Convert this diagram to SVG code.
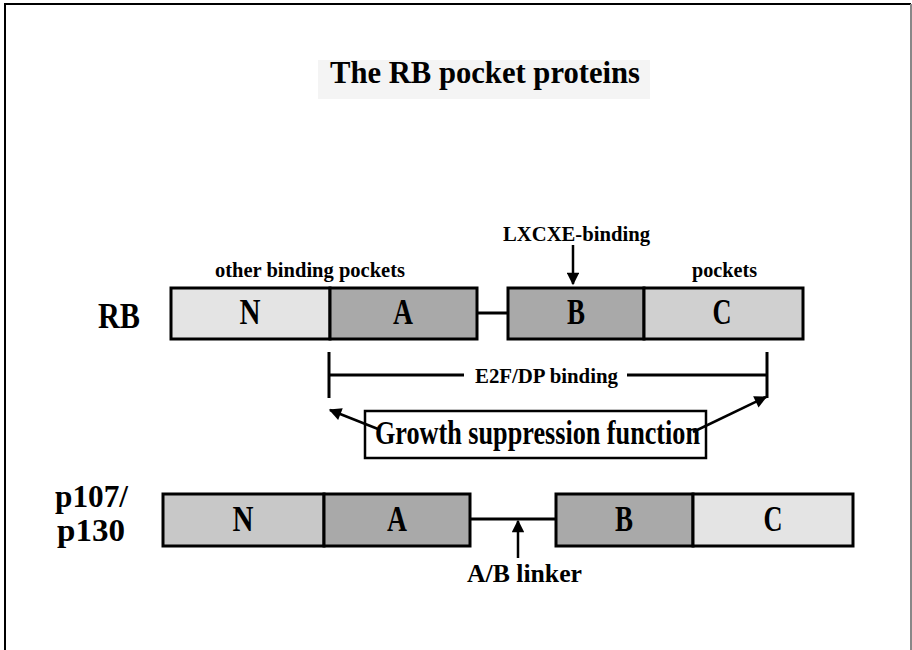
<svg xmlns="http://www.w3.org/2000/svg" width="912" height="650" viewBox="0 0 912 650">
  <defs>
    <marker id="head" viewBox="0 0 10 10" refX="9" refY="5" markerWidth="6" markerHeight="5" markerUnits="strokeWidth" orient="auto">
      <path d="M0,0 L10,5 L0,10 z" fill="#000"/>
    </marker>
    <style>
      .t { font-family: "Liberation Serif", "Times New Roman", serif; font-weight: bold; fill: #000; }
      .dom { stroke: #000; stroke-width: 3; }
      .lbl { font-size: 35px; text-anchor: middle; }
      .small { font-size: 21px; }
      .wire { stroke: #000; stroke-width: 3; fill: none; }
      .arrow { stroke: #000; stroke-width: 2.5; fill: none; marker-end: url(#head); }
    </style>
  </defs>

  <rect x="0" y="0" width="912" height="650" fill="#fff"/>
  <!-- slide frame -->
  <path d="M5,650 V4 H911" fill="none" stroke="#000" stroke-width="2"/>
  <line x1="911" y1="4" x2="911" y2="650" stroke="#888" stroke-width="2"/>

  <!-- title -->
  <g id="title">
    <rect x="318" y="60" width="332" height="39" fill="#f4f4f4"/>
    <text class="t" x="330" y="83" font-size="32" textLength="310" lengthAdjust="spacingAndGlyphs">The RB pocket proteins</text>
  </g>

  <!-- RB protein -->
  <g id="rb">
    <text class="t" x="98" y="328" font-size="35" textLength="42" lengthAdjust="spacingAndGlyphs">RB</text>
    <g id="rb-N"><rect class="dom" x="171" y="288" width="159" height="51" fill="#e4e4e4"/><text class="t lbl" x="250" y="324" textLength="21" lengthAdjust="spacingAndGlyphs">N</text></g>
    <g id="rb-A"><rect class="dom" x="330" y="288" width="147" height="51" fill="#a9a9a9"/><text class="t lbl" x="403" y="324" textLength="20" lengthAdjust="spacingAndGlyphs">A</text></g>
    <g id="rb-B"><rect class="dom" x="508" y="288" width="136" height="51" fill="#a9a9a9"/><text class="t lbl" x="576" y="324" textLength="18" lengthAdjust="spacingAndGlyphs">B</text></g>
    <g id="rb-C"><rect class="dom" x="644" y="288" width="159" height="51" fill="#d0d0d0"/><text class="t lbl" x="722" y="324" textLength="19" lengthAdjust="spacingAndGlyphs">C</text></g>
    <text class="t small" x="215" y="277" textLength="190" lengthAdjust="spacingAndGlyphs">other binding pockets</text>
    <text class="t small" x="692" y="277" textLength="65" lengthAdjust="spacingAndGlyphs">pockets</text>
    <text class="t" x="503" y="241" font-size="20" textLength="147" lengthAdjust="spacingAndGlyphs">LXCXE-binding</text>
  </g>

  <!-- p107 / p130 proteins -->
  <g id="p107">
    <text class="t" x="55" y="507" font-size="32" textLength="73" lengthAdjust="spacingAndGlyphs">p107/</text>
    <text class="t" x="57" y="541" font-size="32" textLength="68" lengthAdjust="spacingAndGlyphs">p130</text>
    <g id="p107-N"><rect class="dom" x="163" y="494" width="161" height="52" fill="#c8c8c8"/><text class="t lbl" x="243" y="531" textLength="21" lengthAdjust="spacingAndGlyphs">N</text></g>
    <g id="p107-A"><rect class="dom" x="324" y="494" width="146" height="52" fill="#a9a9a9"/><text class="t lbl" x="397" y="531" textLength="20" lengthAdjust="spacingAndGlyphs">A</text></g>
    <g id="p107-B"><rect class="dom" x="556" y="494" width="137" height="52" fill="#a9a9a9"/><text class="t lbl" x="624" y="531" textLength="18" lengthAdjust="spacingAndGlyphs">B</text></g>
    <g id="p107-C"><rect class="dom" x="693" y="494" width="160" height="52" fill="#e4e4e4"/><text class="t lbl" x="773" y="531" textLength="19" lengthAdjust="spacingAndGlyphs">C</text></g>
    <text class="t" x="467" y="582" font-size="25" textLength="115" lengthAdjust="spacingAndGlyphs">A/B linker</text>
  </g>

  <!-- growth suppression box -->
  <g id="growth">
    <rect x="365" y="411" width="341" height="47" fill="#fff" stroke="#000" stroke-width="2.5"/>
    <text class="t" x="375" y="444" font-size="33" textLength="325" lengthAdjust="spacingAndGlyphs">Growth suppression function</text>
  </g>

  <!-- E2F/DP binding span -->
  <g id="e2f">
    <text class="t" x="475" y="383" font-size="20" textLength="143" lengthAdjust="spacingAndGlyphs">E2F/DP binding</text>
  </g>

  <g id="connectors">
    <!-- linkers between A and B domains -->
    <line class="wire" x1="477" y1="313" x2="508" y2="313"/>
    <line class="wire" x1="470" y1="519" x2="556" y2="519"/>
    <!-- bracket -->
    <line class="wire" x1="329" y1="352" x2="329" y2="398"/>
    <line class="wire" x1="767" y1="352" x2="767" y2="398"/>
    <line class="wire" x1="329" y1="375" x2="464" y2="375"/>
    <line class="wire" x1="627" y1="375" x2="767" y2="375"/>
    <!-- pointers -->
    <line class="arrow" x1="573" y1="245" x2="573" y2="284"/>
    <line class="arrow" x1="518" y1="558" x2="518" y2="521"/>
    <line class="arrow" x1="378" y1="429" x2="330" y2="410"/>
    <line class="arrow" x1="693" y1="432" x2="766" y2="397"/>
  </g>
</svg>
